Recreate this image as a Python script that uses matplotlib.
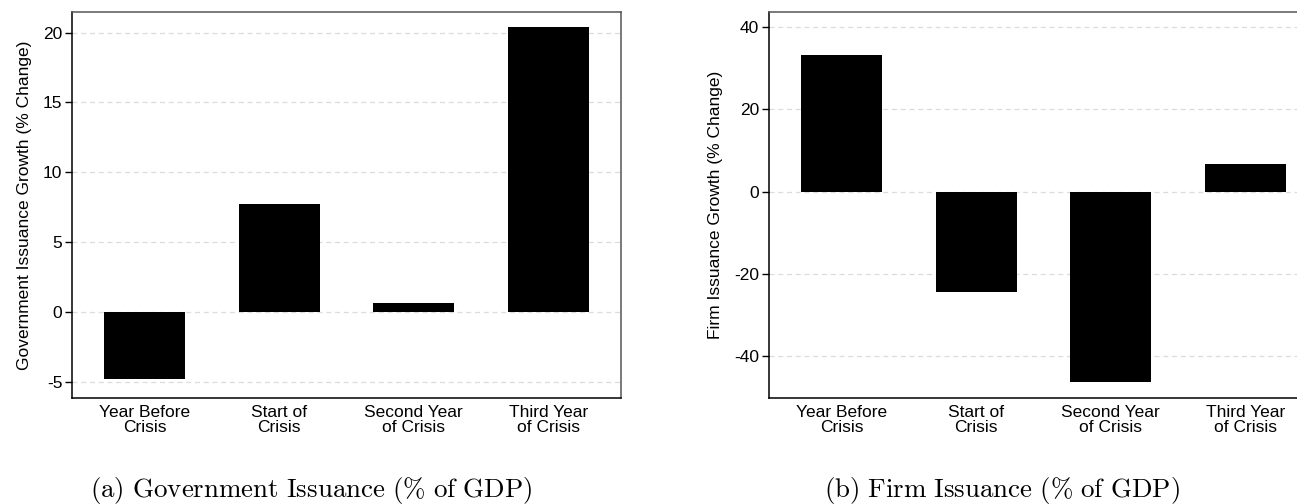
import matplotlib
matplotlib.use("Agg")
import matplotlib.pyplot as plt

plt.rcParams["font.family"] = ["Liberation Sans", "DejaVu Sans"]
plt.rcParams["axes.unicode_minus"] = False
plt.rcParams["mathtext.fontset"] = "cm"

# Crisis-timing categories shared by both panels
categories = ["Year Before\nCrisis", "Start of\nCrisis", "Second Year\nof Crisis", "Third Year\nof Crisis"]

# Growth in issuance, % change
gov_growth = [-4.8, 7.7, 0.63, 20.38]
firm_growth = [33.3, -24.3, -46.2, 6.7]

gov_ticks = [-5, 0, 5, 10, 15, 20]
firm_ticks = [-40, -20, 0, 20, 40]

W, H = 1297, 504
fig = plt.figure(figsize=(W / 100, H / 100), dpi=100)

ax_w = 549 / W
ax_b = 1 - 398 / H
ax_h = 386 / H
ax_gov = fig.add_axes([72 / W, ax_b, ax_w, ax_h])
ax_firm = fig.add_axes([769 / W, ax_b, ax_w, ax_h])


def draw_panel(ax, values, yticks, ylim, ylabel):
    x = list(range(len(categories)))
    ax.bar(x, values, width=0.6, color="black", zorder=3)
    ax.set_xlim(-0.54, 3.54)
    ax.set_ylim(*ylim)
    ax.set_yticks(yticks)
    ax.set_yticklabels([str(t) for t in yticks])
    ax.set_xticks(x)
    ax.set_xticklabels(categories, linespacing=1.0)
    ax.tick_params(axis="x", length=0, pad=5, labelsize=12.5)
    ax.tick_params(axis="y", length=5, width=1, pad=2, labelsize=12.5)
    ax.yaxis.grid(True, color="#dcdcdc", linestyle=(0, (4, 3)), linewidth=0.9, zorder=0)
    ax.set_axisbelow(True)
    for side in ("left", "bottom"):
        ax.spines[side].set_color("black")
        ax.spines[side].set_linewidth(1.1)
    for side in ("top", "right"):
        ax.spines[side].set_color("#555555")
        ax.spines[side].set_linewidth(1.1)
    ax.set_ylabel(ylabel, fontsize=12.5, labelpad=8)


draw_panel(ax_gov, gov_growth, gov_ticks, (-6.16, 21.47),
           "Government Issuance Growth (% Change)")
draw_panel(ax_firm, firm_growth, firm_ticks, (-50.2, 43.7),
           "Firm Issuance Growth (% Change)")

fig.text(311 / W, 0.014, r"$\mathrm{(a)\ Government\ Issuance\ (\%\ of\ GDP)}$",
         ha="center", va="baseline", fontsize=19.4)
fig.text(1002 / W, 0.014, r"$\mathrm{(b)\ Firm\ Issuance\ (\%\ of\ GDP)}$",
         ha="center", va="baseline", fontsize=19.4)

fig.savefig("out.png", dpi=100)
